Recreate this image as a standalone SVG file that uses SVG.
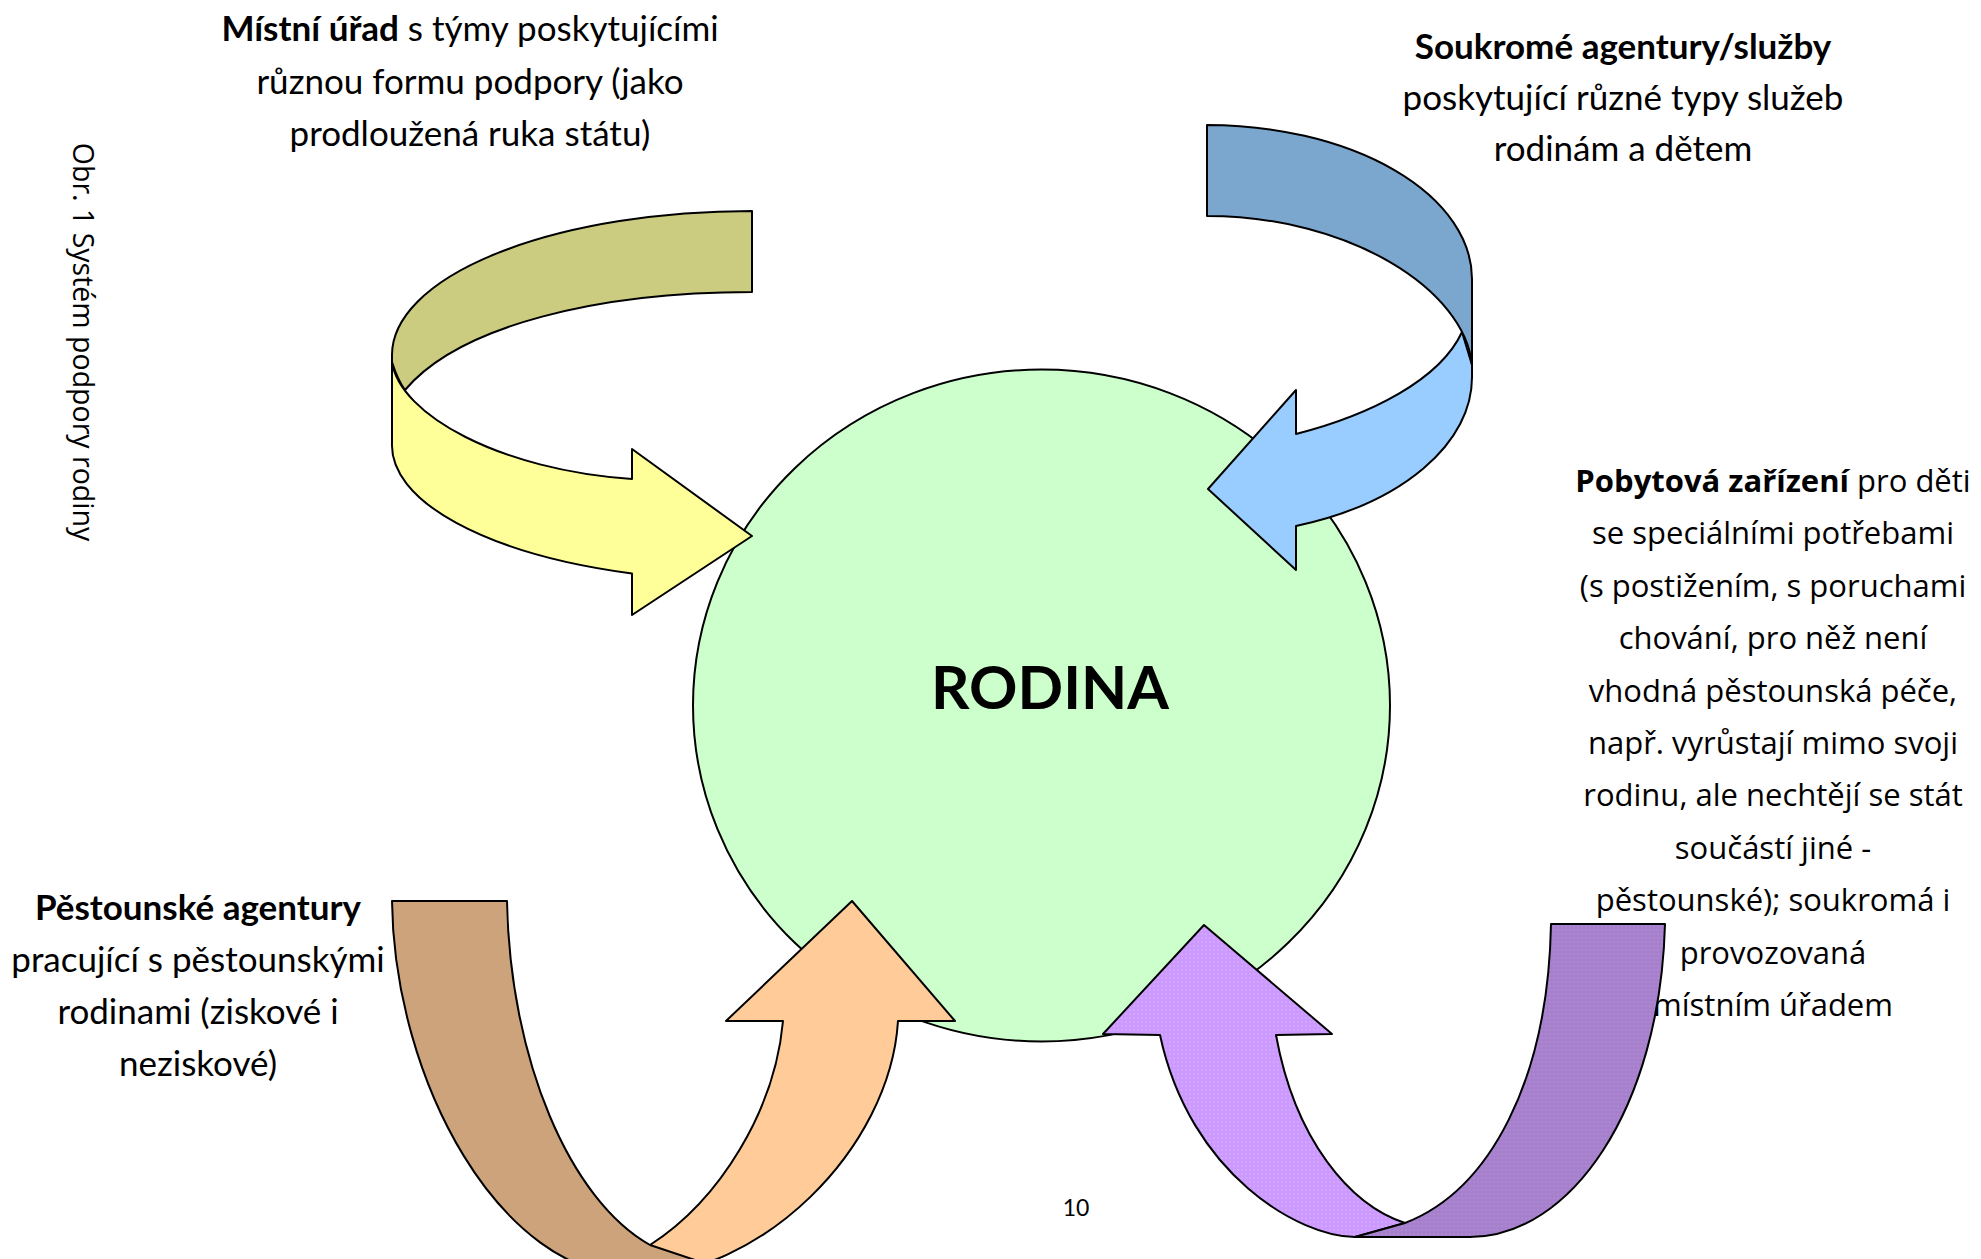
<svg xmlns="http://www.w3.org/2000/svg" width="1981" height="1259" viewBox="0 0 1981 1259">
<style>
.cal{font-family:Lato,"Liberation Sans",sans-serif;font-size:35px;fill:#000;text-anchor:middle}
.seg{font-family:"Open Sans","DejaVu Sans",sans-serif;font-size:31px;fill:#000;text-anchor:middle}
.b{font-weight:bold}
.arrow{stroke:#000;stroke-width:2;stroke-linejoin:round}
</style>
<defs>
<pattern id="dotsLight" width="4" height="4" patternUnits="userSpaceOnUse">
<rect width="4" height="4" fill="#CC99FF"/>
<circle cx="2" cy="2" r="0.6" fill="#E8D4FF"/>
</pattern>
<pattern id="dotsDark" width="4" height="4" patternUnits="userSpaceOnUse">
<rect width="4" height="4" fill="#A680CC"/>
<circle cx="2" cy="2" r="0.6" fill="#C0A4E0"/>
</pattern>
</defs>
<rect width="1981" height="1259" fill="#fff"/>

<g id="caption">
<text class="seg" style="font-size:28.5px" transform="translate(73,342) rotate(90)">Obr. 1 Systém podpory rodiny</text>
</g>

<g id="rodina">
<ellipse cx="1041.5" cy="705.5" rx="348.5" ry="336" fill="#CCFFCC" stroke="#000" stroke-width="2"/>
<text class="cal b" style="font-size:60px" x="1050" y="709">RODINA</text>
</g>

<g id="mistni-urad">
<text class="cal" x="470" y="41"><tspan class="b">Místní úřad</tspan> s týmy poskytujícími</text>
<text class="cal" x="470" y="93.5">různou formu podpory (jako</text>
<text class="cal" x="470" y="146">prodloužená ruka státu)</text>
</g>

<g id="soukrome-agentury">
<text class="cal b" x="1623" y="59">Soukromé agentury/služby</text>
<text class="cal" x="1623" y="110">poskytující různé typy služeb</text>
<text class="cal" x="1623" y="161">rodinám a dětem</text>
</g>

<g id="pestounske-agentury">
<text class="cal b" x="198" y="920">Pěstounské agentury</text>
<text class="cal" x="198" y="972">pracující s pěstounskými</text>
<text class="cal" x="198" y="1024">rodinami (ziskové i</text>
<text class="cal" x="198" y="1076">neziskové)</text>
</g>

<g id="pobytova-zarizeni">
<text class="seg" x="1773" y="492"><tspan class="b">Pobytová zařízení</tspan> pro děti</text>
<text class="seg" x="1773" y="544.4">se speciálními potřebami</text>
<text class="seg" x="1773" y="596.8">(s postižením, s poruchami</text>
<text class="seg" x="1773" y="649.2">chování, pro něž není</text>
<text class="seg" x="1773" y="701.6">vhodná pěstounská péče,</text>
<text class="seg" x="1773" y="754">např. vyrůstají mimo svoji</text>
<text class="seg" x="1773" y="806.4">rodinu, ale nechtějí se stát</text>
<text class="seg" x="1773" y="858.8">součástí jiné -</text>
<text class="seg" x="1773" y="911.2">pěstounské); soukromá i</text>
<text class="seg" x="1773" y="963.6">provozovaná</text>
<text class="seg" x="1773" y="1016">místním úřadem</text>
</g>

<g id="page-number">
<text class="cal" style="font-size:23px" x="1076" y="1216">10</text>
</g>

<g id="connectors">
<g id="arrow-mistni-urad" transform="translate(0,-5)">
<path class="arrow" fill="#FFFF99" d="M392,367 L392,448 A360,136 0 0 0 632,578.5 L632,620 L752,541 L632,454 L632,484 C500,475 400,420 392,367 Z"/>
<path class="arrow" fill="#CCCC80" d="M752,216 A360,144 0 0 0 392,360 L392,367 C396,380 400,388 405,395 C460,330 600,297 752,297 Z"/>
</g>
<g id="arrow-soukrome">
<path class="arrow" fill="#99CCFF" d="M1462,332 L1472,365 L1472,377 A265,158 0 0 1 1296,526 L1296,570 L1208,489 L1296,390 L1296,434 C1370,415 1440,380 1462,332 Z"/>
<path class="arrow" fill="#7BA6CD" d="M1207,125 A265,154 0 0 1 1472,279 L1472,365 C1465,290 1350,216 1207,216 Z"/>
</g>
<g id="arrow-pestounske">
<path class="arrow" fill="#FFCC99" d="M650,1245 C720,1200 775,1110 783,1021 L726,1021 L852,901 L955,1021 L898,1021 C890,1150 760,1276 635,1276 L650,1245 Z"/>
<path class="arrow" fill="#CDA37C" d="M392,901 L507,901 C510,1060 570,1200 650,1245 L710,1265 L740,1300 L635,1300 L635,1276 C500,1276 394,1080 392,901 Z"/>
</g>
<g id="arrow-pobytova">
<path class="arrow" fill="url(#dotsLight)" d="M1160,1035 C1190,1175 1300,1237 1355,1237 L1405,1223 C1350,1205 1295,1140 1276,1035 L1332,1034 L1204,925 L1103,1034 Z"/>
<path class="arrow" fill="url(#dotsDark)" d="M1551,924 L1665,924 C1660,1110 1570,1237 1470,1237 L1355,1237 L1405,1223 C1490,1190 1548,1080 1551,924 Z"/>
</g>
</g>
</svg>
